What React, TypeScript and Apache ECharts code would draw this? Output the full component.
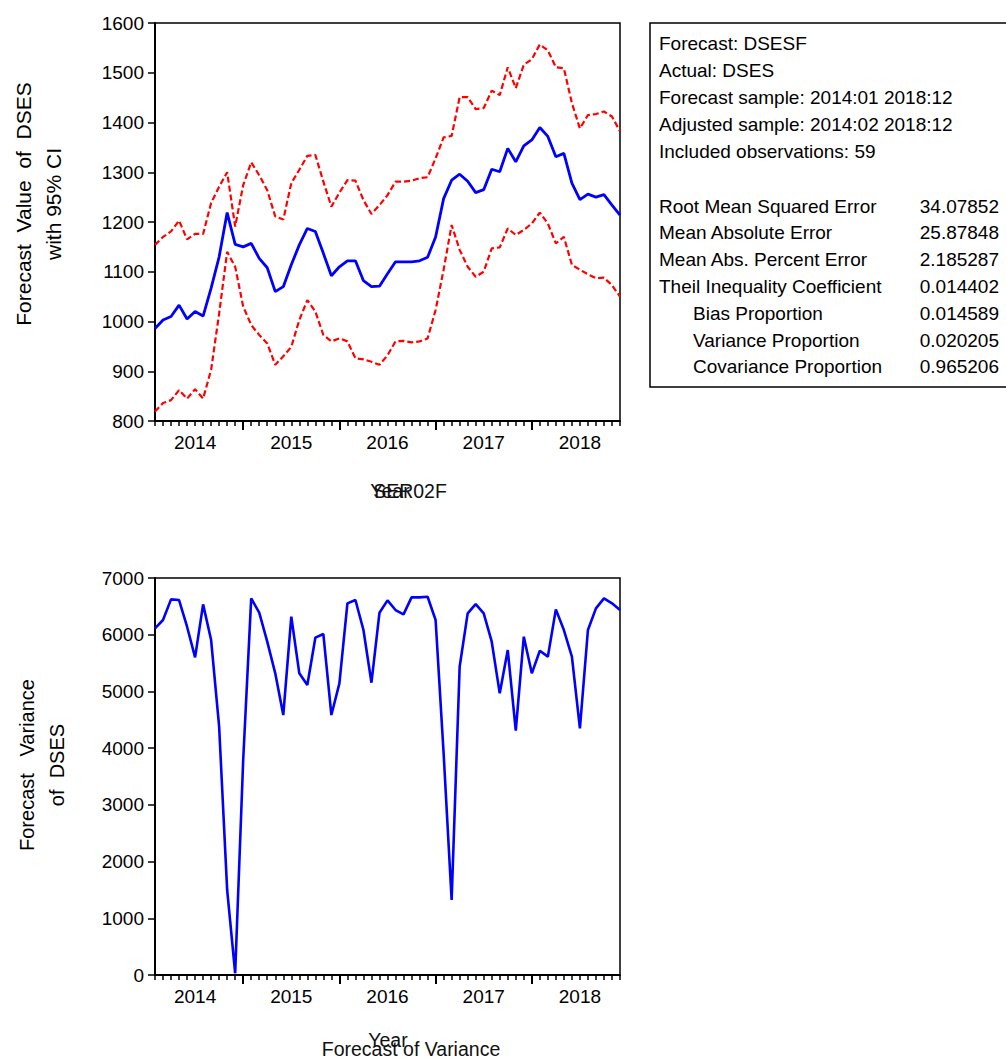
import React, { useEffect, useRef } from "react";
import * as echarts from "echarts";

// Monthly observations 2014:02 .. 2018:12 (59 points), index 0 = 2014:02
const yearLabels = ["2014", "2015", "2016", "2017", "2018"];
const yearLabelIdx = [5, 17, 29, 41, 53]; // mid-year positions
const januaryIdx = [11, 23, 35, 47]; // 2015:01 .. 2018:01

const forecast = [
  986, 1003, 1010, 1033, 1005, 1020, 1011, 1067, 1130, 1219,
  1155, 1150, 1157, 1127, 1108, 1060, 1070, 1114, 1154, 1187,
  1181, 1137, 1092, 1110, 1122, 1122, 1082, 1070, 1071, 1096,
  1120, 1120, 1120, 1122, 1129, 1170, 1247, 1284, 1296, 1282,
  1259, 1265, 1306, 1301, 1348, 1321, 1353, 1365, 1390, 1372,
  1331, 1338, 1278, 1245, 1256, 1250, 1255, 1234, 1214,
];
const upper95 = [
  1154, 1170, 1181, 1203, 1165, 1176, 1176, 1238, 1271, 1300,
  1191, 1274, 1320, 1294, 1264, 1211, 1205, 1278, 1305, 1333,
  1335, 1281, 1231, 1259, 1284, 1283, 1244, 1216, 1234, 1254,
  1281, 1281, 1283, 1288, 1290, 1328, 1370, 1373, 1451, 1451,
  1427, 1429, 1464, 1455, 1511, 1469, 1516, 1527, 1557, 1545,
  1511, 1509, 1439, 1388, 1415, 1417, 1422, 1412, 1382,
];
const lower95 = [
  819, 836, 842, 862, 845, 864, 845, 903, 1016, 1140,
  1110, 1030, 993, 973, 956, 913, 930, 949, 1003, 1043,
  1020, 973, 960, 966, 960, 926, 924, 919, 913, 932,
  960, 961, 958, 960, 966, 1023, 1104, 1194, 1144, 1110,
  1090, 1100, 1147, 1149, 1187, 1174, 1184, 1197, 1219, 1197,
  1157, 1170, 1114, 1104, 1095, 1087, 1088, 1073, 1050,
];
const variance = [
  6112, 6259, 6623, 6612, 6141, 5601, 6535, 5906, 4378, 1499,
  30, 3791, 6641, 6388, 5877, 5319, 4584, 6318, 5319, 5113,
  5948, 6012, 4584, 5142, 6553, 6612, 6083, 5154, 6388, 6606,
  6435, 6359, 6659, 6659, 6670, 6259, 3908, 1322, 5436, 6376,
  6541, 6376, 5877, 4966, 5730, 4308, 5965, 5319, 5718, 5613,
  6447, 6083, 5613, 4349, 6083, 6465, 6641, 6553, 6435,
];

const infoLines = [
  "Forecast: DSESF",
  "Actual: DSES",
  "Forecast sample: 2014:01 2018:12",
  "Adjusted sample: 2014:02 2018:12",
  "Included observations: 59",
];
const statLabels = [
  "Root Mean Squared Error",
  "Mean Absolute Error",
  "Mean Abs. Percent Error",
  "Theil Inequality Coefficient",
  "Bias Proportion",
  "Variance Proportion",
  "Covariance Proportion",
];
const statIndent = [false, false, false, false, true, true, true];
const statValues = [
  "34.07852",
  "25.87848",
  "2.185287",
  "0.014402",
  "0.014589",
  "0.020205",
  "0.965206",
];

const FONT = "'Liberation Sans', Arial, sans-serif";

export default function App() {
  const ref = useRef<HTMLDivElement>(null);

  useEffect(() => {
    if (!ref.current) return;
    const chart = echarts.init(ref.current, null, { renderer: "svg" });
    const n = forecast.length;
    const allIdx = forecast.map((_, i) => i);
    const toPts = (arr: number[]) => arr.map((v, i) => [i, v]);

    const mainX = (g: number) => ({
      type: "value",
      gridIndex: g,
      position: "bottom",
      min: 0,
      max: n - 1,
      axisLine: { show: true, onZero: false, lineStyle: { color: "#000", width: 2 } },
      axisTick: {
        show: true,
        inside: false,
        customValues: allIdx,
        length: 5,
        lineStyle: { color: "#000", width: 1.5 },
      },
      axisLabel: {
        show: true,
        customValues: yearLabelIdx,
        formatter: (v: number) => {
          const k = yearLabelIdx.indexOf(Math.round(v));
          return k >= 0 ? yearLabels[k] : "";
        },
        fontSize: 19,
        color: "#000",
        fontFamily: FONT,
        margin: 12,
      },
      splitLine: { show: false },
    });
    const majorX = (g: number) => ({
      type: "value",
      gridIndex: g,
      position: "bottom",
      offset: 0,
      min: 0,
      max: n - 1,
      axisLine: { show: false, onZero: false },
      axisTick: {
        show: true,
        inside: false,
        customValues: januaryIdx,
        length: 9,
        lineStyle: { color: "#000", width: 2 },
      },
      axisLabel: { show: false },
      splitLine: { show: false },
    });
    const yAx = (g: number, min: number, max: number, interval: number) => ({
      type: "value",
      gridIndex: g,
      min,
      max,
      interval,
      axisLine: { show: true, lineStyle: { color: "#000", width: 2 } },
      axisTick: { show: true, length: 7, lineStyle: { color: "#000", width: 1.5 } },
      axisLabel: {
        fontSize: 19,
        color: "#000",
        fontFamily: FONT,
        margin: 11,
        formatter: (v: number) => String(v),
      },
      splitLine: { show: false },
    });

    const graphics: any[] = [];
    // Y-axis titles
    graphics.push({
      type: "text",
      x: 38,
      y: 204,
      rotation: Math.PI / 2,
      style: {
        text: "Forecast  Value  of  DSES\nwith 95% CI",
        fontSize: 21,
        lineHeight: 30,
        fontFamily: FONT,
        fill: "#000",
        align: "center",
        verticalAlign: "middle",
      },
    });
    graphics.push({
      type: "text",
      x: 42,
      y: 765,
      rotation: Math.PI / 2,
      style: {
        text: "Forecast   Variance\nof  DSES",
        fontSize: 20,
        lineHeight: 30,
        fontFamily: FONT,
        fill: "#000",
        align: "center",
        verticalAlign: "middle",
      },
    });
    // X-axis titles (overlapping, as in the original)
    const xt = (text: string, x: number, y: number) => ({
      type: "text",
      x,
      y,
      style: {
        text,
        fontSize: 19.5,
        fontFamily: FONT,
        fill: "#111",
        align: "center",
        verticalAlign: "middle",
      },
    });
    graphics.push(xt("Year", 390, 491));
    graphics.push(xt("SER02F", 410, 491));
    graphics.push(xt("Year", 388, 1040));
    graphics.push(xt("Forecast of Variance", 411, 1049));

    // Statistics box
    graphics.push({
      type: "rect",
      shape: { x: 650, y: 23, width: 370, height: 364 },
      style: { fill: "#fff", stroke: "#000", lineWidth: 1.5 },
    });
    const lineY0 = 43;
    const step = 27;
    infoLines.forEach((t, i) => {
      graphics.push({
        type: "text",
        x: 659,
        y: lineY0 + i * step,
        style: { text: t, fontSize: 19, fontFamily: FONT, fill: "#000", align: "left", verticalAlign: "middle" },
      });
    });
    const statY0 = 206;
    const statStep = 26.8;
    statLabels.forEach((t, i) => {
      graphics.push({
        type: "text",
        x: statIndent[i] ? 693 : 659,
        y: statY0 + i * statStep,
        style: { text: t, fontSize: 19, fontFamily: FONT, fill: "#000", align: "left", verticalAlign: "middle" },
      });
      graphics.push({
        type: "text",
        x: 999,
        y: statY0 + i * statStep,
        style: { text: statValues[i], fontSize: 19, fontFamily: FONT, fill: "#000", align: "right", verticalAlign: "middle" },
      });
    });

    chart.setOption({
      animation: false,
      backgroundColor: "#fff",
      grid: [
        { left: 155, top: 23, width: 465, height: 398, show: true, borderColor: "#000", borderWidth: 1.5, backgroundColor: "transparent" },
        { left: 155, top: 578, width: 465, height: 397, show: true, borderColor: "#000", borderWidth: 1.5, backgroundColor: "transparent" },
      ],
      xAxis: [mainX(0), majorX(0), mainX(1), majorX(1)],
      yAxis: [yAx(0, 800, 1600, 100), yAx(1, 0, 7000, 1000)],
      series: [
        {
          type: "line",
          xAxisIndex: 0,
          yAxisIndex: 0,
          data: toPts(upper95),
          showSymbol: false,
          lineStyle: { color: "#ff0000", width: 2.2, type: [6, 3] },
        },
        {
          type: "line",
          xAxisIndex: 0,
          yAxisIndex: 0,
          data: toPts(lower95),
          showSymbol: false,
          lineStyle: { color: "#ff0000", width: 2.2, type: [6, 3] },
        },
        {
          type: "line",
          xAxisIndex: 0,
          yAxisIndex: 0,
          data: toPts(forecast),
          showSymbol: false,
          lineStyle: { color: "#0000ff", width: 2.8 },
        },
        {
          type: "line",
          xAxisIndex: 2,
          yAxisIndex: 1,
          data: toPts(variance),
          showSymbol: false,
          lineStyle: { color: "#0000ff", width: 2.6 },
        },
      ],
      graphic: graphics,
    });

    return () => chart.dispose();
  }, []);

  return (
    <div
      ref={ref}
      style={{ position: "absolute", left: 0, top: 0, width: 1006, height: 1059, background: "#fff" }}
    />
  );
}
